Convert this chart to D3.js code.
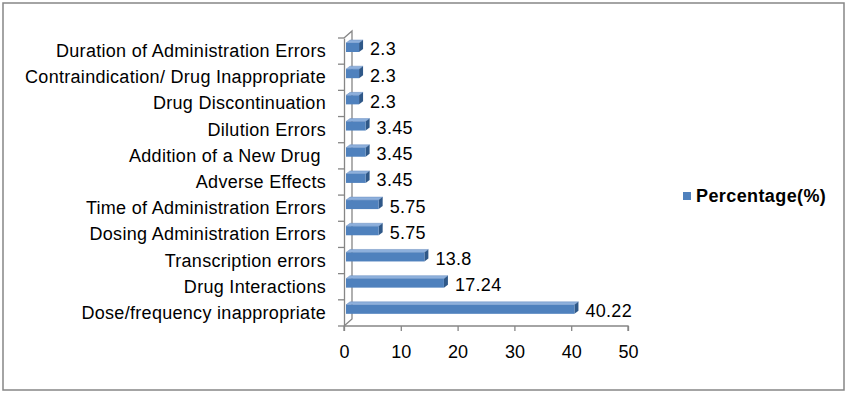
<!DOCTYPE html>
<html>
<head>
<meta charset="utf-8">
<script src="https://cdn.jsdelivr.net/npm/d3@7"></script>
<style>
body { margin: 0; background: #fff; }
text { font-family: Arial, "Liberation Sans", sans-serif; fill: #000; }
.catLabel { white-space: pre; letter-spacing: 0.3px; }
</style>
</head>
<body>
<div id="chart"></div>
<script>
// values, top to bottom
var categories = [
    "Duration of Administration Errors",
    "Contraindication/ Drug Inappropriate",
    "Drug Discontinuation",
    "Dilution Errors",
    "Addition of a New Drug ",
    "Adverse Effects",
    "Time of Administration Errors",
    "Dosing Administration Errors",
    "Transcription errors",
    "Drug Interactions",
    "Dose/frequency inappropriate"
];
var percentages = [2.3, 2.3, 2.3, 3.45, 3.45, 3.45, 5.75, 5.75, 13.8, 17.24, 40.22];
var xTicks = [0, 10, 20, 30, 40, 50];
var seriesName = "Percentage(%)";

var width = 848;
var height = 395;
var axisColor = "#868686";
var fontSize = 18;
var depth = 7;      // wall depth of the 3d box
var barDx = 4;      // bar depth
var barDy = 3;

var data = categories.map(function(c, i){
    return {cat: c, value: percentages[i]};
});

var svg = d3
.select("#chart")
.append("svg")
.attr("width", width)
.attr("height", height);

svg.append("rect")
.attr("x", 3)
.attr("y", 3)
.attr("width", 841)
.attr("height", 387)
.attr("fill", "#fff")
.attr("stroke", axisColor)
.attr("stroke-width", 1.5);

var x_scale = d3
.scaleLinear()
.domain([0, 50])
.range([344, 628]);

var y_scale = d3
.scaleBand()
.domain(categories)
.range([38, 326]);

var x0 = x_scale(0);
var yTop = y_scale.range()[0];
var yBot = y_scale.range()[1];

// back wall + floor edge lines
var walls = svg.append("g")
.attr("fill", "none")
.attr("stroke", axisColor)
.attr("stroke-width", 1.3);

walls.append("path")
.attr("d", "M" + x0 + "," + yTop + "L" + (x0 + depth + 1) + "," + (yTop - depth) +
    "L" + (x0 + depth + 1) + "," + (yBot - depth) + "L" + x0 + "," + yBot);

// category axis (front)
var yAxis = d3.axisLeft(y_scale).tickSize(0).tickFormat("");
svg.append("g")
.attr("transform", "translate(" + x0 + ",0)")
.call(yAxis)
.call(function(g){
    g.select(".domain").attr("stroke", axisColor).attr("stroke-width", 1.3);
});

// category tick marks sit on the band edges
svg.append("g")
.selectAll("line")
.data(categories.concat(["__end"]))
.enter()
.append("line")
.attr("x1", x0 - 6)
.attr("x2", x0)
.attr("y1", function(d, i){ return yTop + i * y_scale.bandwidth(); })
.attr("y2", function(d, i){ return yTop + i * y_scale.bandwidth(); })
.attr("stroke", axisColor)
.attr("stroke-width", 1.3);

svg.append("g")
.selectAll("text")
.data(categories)
.enter()
.append("text")
.attr("class", "catLabel")
.attr("x", 326)
.attr("y", function(d){ return y_scale(d) + y_scale.bandwidth() / 2 - 0.5; })
.attr("dy", "0.36em")
.attr("text-anchor", "end")
.attr("font-size", fontSize)
.text(function(d){ return d; });

// value axis
var xAxis = d3.axisBottom(x_scale).tickValues(xTicks).tickSize(5).tickPadding(14);
svg.append("g")
.attr("transform", "translate(0," + yBot + ")")
.call(xAxis)
.call(function(g){
    g.select(".domain").attr("stroke", axisColor).attr("stroke-width", 1.3).attr("d", "M" + x0 + ",0V5M" + x0 + ",0H" + x_scale(50) + "V5");
    g.selectAll(".tick line").attr("stroke", axisColor).attr("stroke-width", 1.3);
    g.selectAll(".tick text").attr("font-size", fontSize).attr("font-family", "Arial, 'Liberation Sans', sans-serif").attr("fill", "#000");
});

// 3d bars
var bars = svg.selectAll("g.bar").data(data).enter()
.append("g")
.attr("class", "bar");

function frontX(){ return x0 + 2; }
function endX(d){ return x_scale(d.value) + 2; }
function faceTop(d){ return y_scale(d.cat) + 5; }
function faceBot(d){ return y_scale(d.cat) + 14; }

bars.append("path")
.attr("fill", "#8eb0dc")
.attr("stroke", "#6a8fc0")
.attr("stroke-width", 0.5)
.attr("d", function(d){
    return "M" + frontX() + "," + faceTop(d) +
        "L" + endX(d) + "," + faceTop(d) +
        "L" + (endX(d) + barDx) + "," + (faceTop(d) - barDy) +
        "L" + (frontX() + barDx) + "," + (faceTop(d) - barDy) + "Z";
});

bars.append("path")
.attr("fill", "#2f5888")
.attr("d", function(d){
    return "M" + endX(d) + "," + faceTop(d) +
        "L" + (endX(d) + barDx) + "," + (faceTop(d) - barDy) +
        "L" + (endX(d) + barDx) + "," + (faceBot(d) - barDy) +
        "L" + endX(d) + "," + faceBot(d) + "Z";
});

bars.append("rect")
.attr("x", frontX())
.attr("y", faceTop)
.attr("width", function(d){ return endX(d) - frontX(); })
.attr("height", function(d){ return faceBot(d) - faceTop(d); })
.attr("fill", "#4f81bd");

bars.append("text")
.attr("x", function(d){ return x_scale(d.value) + 13; })
.attr("y", function(d){ return y_scale(d.cat) + 11; })
.attr("dy", "0.36em")
.attr("font-size", fontSize)
.attr("letter-spacing", 0.3)
.text(function(d){ return d.value; });

// legend
var legend = svg.append("g").attr("transform", "translate(683,196)");
legend.append("rect")
.attr("x", 0)
.attr("y", -4)
.attr("width", 8)
.attr("height", 8)
.attr("fill", "#4f81bd");
legend.append("text")
.attr("x", 13)
.attr("y", 0)
.attr("dy", "0.36em")
.attr("font-size", fontSize)
.attr("font-weight", "bold")
.attr("letter-spacing", 0.4)
.text(seriesName);
</script>
</body>
</html>
